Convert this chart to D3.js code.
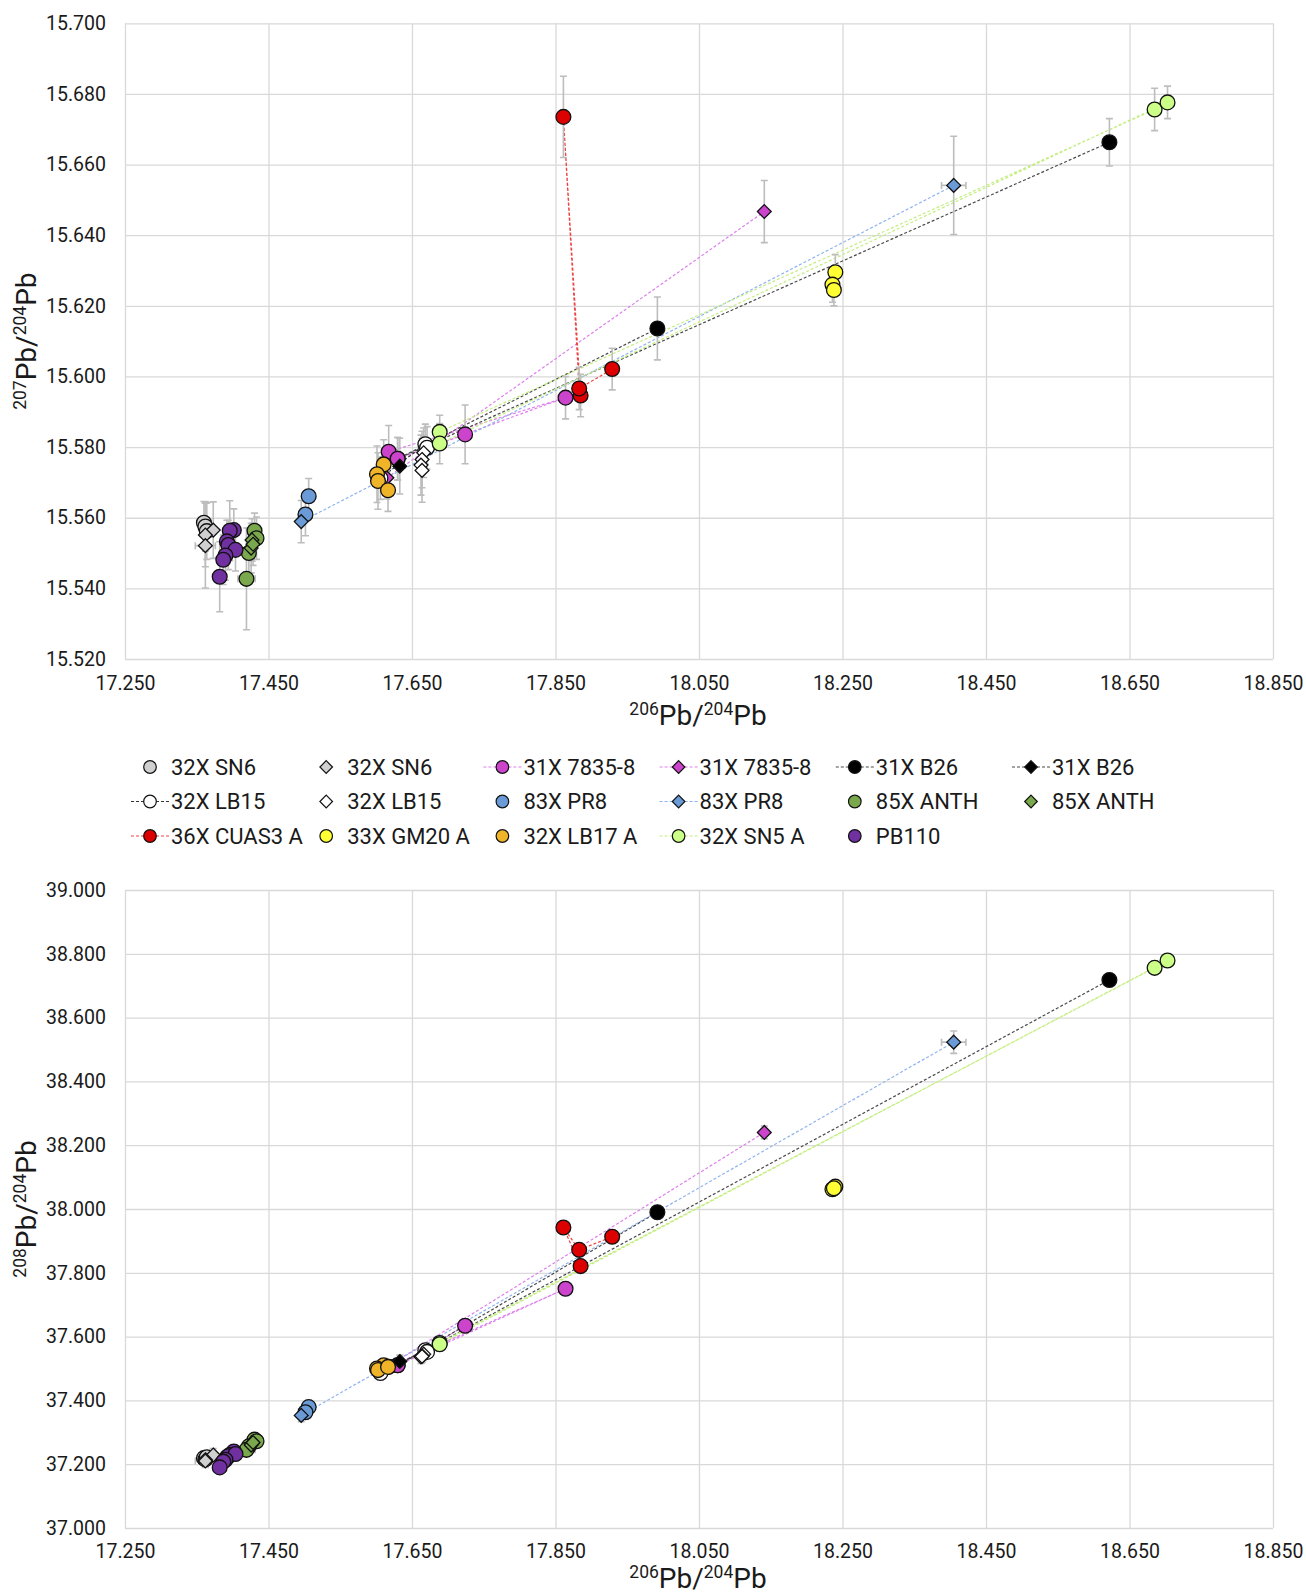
<!DOCTYPE html>
<html>
<head>
<meta charset="utf-8">
<script src="https://cdn.jsdelivr.net/npm/d3@7"></script>
<style>
  body { margin: 0; background: #fff; }
  svg { display: block; font-family: Roboto, "Noto Sans", sans-serif; }
</style>
</head>
<body>
<svg id="chart" width="1306" height="1595"></svg>
<script>
// tick labels
var xTicks = [17.25, 17.45, 17.65, 17.85, 18.05, 18.25, 18.45, 18.65, 18.85];
var y207Ticks = [15.52, 15.54, 15.56, 15.58, 15.60, 15.62, 15.64, 15.66, 15.68, 15.70];
var y208Ticks = [37.0, 37.2, 37.4, 37.6, 37.8, 38.0, 38.2, 38.4, 38.6, 38.8, 39.0];

// each point: [206Pb/204Pb, 207Pb/204Pb, 208Pb/204Pb, err 207, err 206, err 208]
var sn6Circles = [
  [17.360, 15.5586, 37.219, 0.006],
  [17.362, 15.5575, 37.215, 0.007],
  [17.364, 15.5562, 37.222, 0.008]
];
var sn6Diamonds = [
  [17.373, 15.5565, 37.229, 0.008],
  [17.362, 15.5551, 37.214, 0.009],
  [17.362, 15.5521, 37.210, 0.012, 0.014]
];
var c7835Circles = [
  [17.6175, 15.5787, 37.505, 0.0074],
  [17.864, 15.5940, 37.750, 0.006],
  [17.630, 15.5767, 37.510, 0.006],
  [17.724, 15.5836, 37.634, 0.0083]
];
var c7835Diamonds = [
  [17.615, 15.5713, 37.505, 0.006],
  [18.141, 15.6467, 38.240, 0.0088]
];
var b26Circles = [
  [17.992, 15.6136, 37.990, 0.0089],
  [17.630, 15.5767, 37.510, 0.006],
  [18.622, 15.6663, 38.718, 0.0067]
];
var b26Diamonds = [
  [17.633, 15.5746, 37.522, 0.0079]
];
var lb15Circles = [
  [17.606, 15.5712, 37.486, 0.006],
  [17.6686, 15.5808, 37.557, 0.0057],
  [17.671, 15.5798, 37.552, 0.006]
];
var lb15Diamonds = [
  [17.6663, 15.5784, 37.545, 0.007],
  [17.664, 15.5765, 37.540, 0.008],
  [17.6625, 15.5749, 37.536, 0.0085],
  [17.664, 15.5734, 37.538, 0.009]
];
var pr8Circles = [
  [17.506, 15.5661, 37.379, 0.005],
  [17.5015, 15.5609, 37.363, 0.006]
];
var pr8Diamonds = [
  [17.4956, 15.5589, 37.353, 0.006],
  [18.405, 15.6541, 38.523, 0.0139, 0.017, 0.035]
];
var anthCircles = [
  [17.4305, 15.5563, 37.277, 0.005],
  [17.4333, 15.5542, 37.272, 0.006],
  [17.4226, 15.5500, 37.256, 0.007],
  [17.4193, 15.5427, 37.245, 0.0144, 0.012]
];
var anthDiamonds = [
  [17.427, 15.5537, 37.265, 0.006],
  [17.4258, 15.5514, 37.260, 0.007],
  [17.4285, 15.5525, 37.268, 0.006]
];
var cuas3 = [
  [17.885, 15.5946, 37.821, 0.006],
  [17.861, 15.6735, 37.942, 0.0115],
  [17.883, 15.5966, 37.872, 0.006],
  [17.929, 15.6021, 37.913, 0.0059]
];
var gm20 = [
  [18.240, 15.6295, 38.070, 0.005],
  [18.236, 15.6260, 38.062, 0.005],
  [18.238, 15.6245, 38.065, 0.0045]
];
var lb17 = [
  [17.6105, 15.5751, 37.510, 0.007],
  [17.6012, 15.5723, 37.500, 0.008],
  [17.6026, 15.5704, 37.495, 0.008],
  [17.6166, 15.5678, 37.505, 0.006]
];
var sn5 = [
  [17.6886, 15.5843, 37.580, 0.0047],
  [18.685, 15.6756, 38.756, 0.0060],
  [18.703, 15.6776, 38.779, 0.0046],
  [17.6886, 15.5810, 37.576, 0.0057]
];
var pb110 = [
  [17.4017, 15.5565, 37.240, 0.006],
  [17.396, 15.5563, 37.229, 0.0085],
  [17.392, 15.5533, 37.222, 0.006],
  [17.394, 15.5523, 37.225, 0.007],
  [17.404, 15.5509, 37.232, 0.006],
  [17.390, 15.5493, 37.214, 0.007],
  [17.387, 15.5481, 37.208, 0.007],
  [17.382, 15.5433, 37.190, 0.0099]
];

// series table (legend order)
var series = [
  {name: "32X SN6",     shape: "circle",  fill: "#d0d0d0", line: null,      pts: sn6Circles},
  {name: "32X SN6",     shape: "diamond", fill: "#d0d0d0", line: null,      pts: sn6Diamonds},
  {name: "31X 7835-8",  shape: "circle",  fill: "#cc44cc", line: "#dd80ee", pts: c7835Circles},
  {name: "31X 7835-8",  shape: "diamond", fill: "#cc44cc", line: "#dd80ee", pts: c7835Diamonds},
  {name: "31X B26",     shape: "circle",  fill: "#000000", line: "#4a4a4a", pts: b26Circles},
  {name: "31X B26",     shape: "diamond", fill: "#000000", line: "#4a4a4a", pts: b26Diamonds},
  {name: "32X LB15",    shape: "circle",  fill: "#ffffff", line: "#333333", pts: lb15Circles},
  {name: "32X LB15",    shape: "diamond", fill: "#ffffff", line: null,      pts: lb15Diamonds},
  {name: "83X PR8",     shape: "circle",  fill: "#6b9bd6", line: null,      pts: pr8Circles},
  {name: "83X PR8",     shape: "diamond", fill: "#6b9bd6", line: "#8fb4ee", pts: pr8Diamonds},
  {name: "85X ANTH",    shape: "circle",  fill: "#7aa84c", line: null,      pts: anthCircles},
  {name: "85X ANTH",    shape: "diamond", fill: "#7aa84c", line: null,      pts: anthDiamonds},
  {name: "36X CUAS3 A", shape: "circle",  fill: "#dd0000", line: "#ee4444", pts: cuas3},
  {name: "33X GM20 A",  shape: "circle",  fill: "#ffff33", line: null,      pts: gm20},
  {name: "32X LB17 A",  shape: "circle",  fill: "#f0b429", line: null,      pts: lb17},
  {name: "32X SN5 A",   shape: "circle",  fill: "#ccff88", line: "#c4ee80", pts: sn5},
  {name: "PB110",       shape: "circle",  fill: "#7030a0", line: null,      pts: pb110}
];
// the B26 circles sit under the 7835-8 circles
var drawOrder = [4, 0, 1, 2, 3, 5, 6, 7, 8, 9, 10, 11, 12, 13, 14, 15, 16];

var svg = d3.select("#chart");
var fmt = d3.format(".3f");
var x = d3.scaleLinear().domain([17.25, 18.85]).range([125, 1273]);

function diamondPath(s) {
  return "M0," + (-s) + "L" + s + ",0L0," + s + "L" + (-s) + ",0Z";
}

function axisTitle(g, x0, y0, sup1, sup2, rotate) {
    var t = g.append("text")
        .attr("text-anchor", "middle")
        .attr("fill", "#1a1a1a")
        .attr("transform", "translate(" + x0 + "," + y0 + ")" + (rotate ? " rotate(-90)" : ""));
    t.append("tspan").attr("font-size", 17.5).attr("dy", -10).text(sup1);
    t.append("tspan").attr("font-size", 28).attr("dy", 10).text("Pb/");
    t.append("tspan").attr("font-size", 17.5).attr("dy", -10).text(sup2);
    t.append("tspan").attr("font-size", 28).attr("dy", 10).text("Pb");
}

function panel(yi, domain, top, bottom, yTicks, yTitle, xTitleY, xPad, errDefault) {
    var y = d3.scaleLinear().domain(domain).range([bottom, top]);
    var g = svg.append("g");
    var w = 1273 - 125, h = bottom - top;

    // gridlines + tick labels
    var gx = g.append("g")
        .attr("transform", "translate(0," + bottom + ")")
        .call(d3.axisBottom(x).tickValues(xTicks).tickFormat(fmt).tickSize(-h).tickPadding(xPad));
    var gy = g.append("g")
        .attr("transform", "translate(125,0)")
        .call(d3.axisLeft(y).tickValues(yTicks).tickFormat(fmt).tickSize(-w).tickPadding(19));
    [gx, gy].forEach(function(a) {
        a.select(".domain").remove();
        a.selectAll("line").attr("stroke", "#d9d9d9").attr("stroke-width", 1.3);
        a.selectAll("text").attr("font-size", 19.5).attr("fill", "#1a1a1a")
            .attr("font-family", "Roboto, sans-serif");
    });

    var line = d3.line()
        .x(function(d) { return x(d[0]); })
        .y(function(d) { return y(d[yi]); });

    // connecting lines
    g.append("g").selectAll("path")
        .data(series.filter(function(s) { return s.line; }))
        .enter().append("path")
        .attr("fill", "none")
        .attr("stroke", function(s) { return s.line; })
        .attr("stroke-width", 1.2)
        .attr("stroke-dasharray", "3,2")
        .attr("d", function(s) { return line(s.pts); });

    // error bars
    var allPts = [];
    series.forEach(function(s) { s.pts.forEach(function(p) { allPts.push(p); }); });
    var eb = g.append("g").attr("stroke", "#bdbdbd").attr("stroke-width", 1.6).attr("fill", "none");
    allPts.forEach(function(p) {
        var ey = yi === 1 ? p[3] : (p[5] || errDefault);
        var cx = x(p[0]), y0 = y(p[yi] - ey), y1 = y(p[yi] + ey);
        eb.append("path").attr("d",
            "M" + cx + "," + y0 + "V" + y1 +
            "M" + (cx - 3.5) + "," + y0 + "H" + (cx + 3.5) +
            "M" + (cx - 3.5) + "," + y1 + "H" + (cx + 3.5));
        if (p[4]) {
            var x0 = x(p[0] - p[4]), x1 = x(p[0] + p[4]), cy = y(p[yi]);
            eb.append("path").attr("d",
                "M" + x0 + "," + cy + "H" + x1 +
                "M" + x0 + "," + (cy - 3.5) + "V" + (cy + 3.5) +
                "M" + x1 + "," + (cy - 3.5) + "V" + (cy + 3.5));
        }
    });

    // markers
    drawOrder.forEach(function(i) {
        var s = series[i];
        var mg = g.append("g");
        var sel = mg.selectAll(".m").data(s.pts).enter();
        if (s.shape === "circle") {
            sel.append("circle")
                .attr("cx", function(d) { return x(d[0]); })
                .attr("cy", function(d) { return y(d[yi]); })
                .attr("r", 7.4)
                .attr("fill", s.fill)
                .attr("stroke", "#111")
                .attr("stroke-width", 1.3);
        } else {
            sel.append("path")
                .attr("transform", function(d) { return "translate(" + x(d[0]) + "," + y(d[yi]) + ")"; })
                .attr("d", diamondPath(6.9))
                .attr("fill", s.fill)
                .attr("stroke", "#111")
                .attr("stroke-width", 1.3);
        }
    });

    axisTitle(g, 698, xTitleY, "206", "204", false);
    axisTitle(g, 36, (top + bottom) / 2, yTitle, "204", true);
}

panel(1, [15.52, 15.70], 23.3, 659, y207Ticks, "207", 725, 17.5, 0);
panel(2, [37.0, 39.0], 890, 1528, y208Ticks, "208", 1588, 16, 0.02);

// legend
var legend = svg.append("g").attr("font-size", 22).attr("fill", "#1a1a1a");
series.forEach(function(s, i) {
    var col = i % 6, row = Math.floor(i / 6);
    var tx = 171 + col * 176.2, cy = 767 + row * 34.5, mx = tx - 21;
    var e = legend.append("g");
    if (s.line) {
        e.append("line")
            .attr("x1", mx - 19).attr("x2", mx + 19)
            .attr("y1", cy).attr("y2", cy)
            .attr("stroke", s.line).attr("stroke-width", 1.2)
            .attr("stroke-dasharray", "3,2");
    }
    if (s.shape === "circle") {
        e.append("circle").attr("cx", mx).attr("cy", cy).attr("r", 6.3)
            .attr("fill", s.fill).attr("stroke", "#111").attr("stroke-width", 1.2);
    } else {
        e.append("path").attr("transform", "translate(" + mx + "," + cy + ")")
            .attr("d", diamondPath(6.3))
            .attr("fill", s.fill).attr("stroke", "#111").attr("stroke-width", 1.2);
    }
    e.append("text").attr("x", tx).attr("y", cy).attr("dy", "0.36em").text(s.name);
});
</script>
</body>
</html>
